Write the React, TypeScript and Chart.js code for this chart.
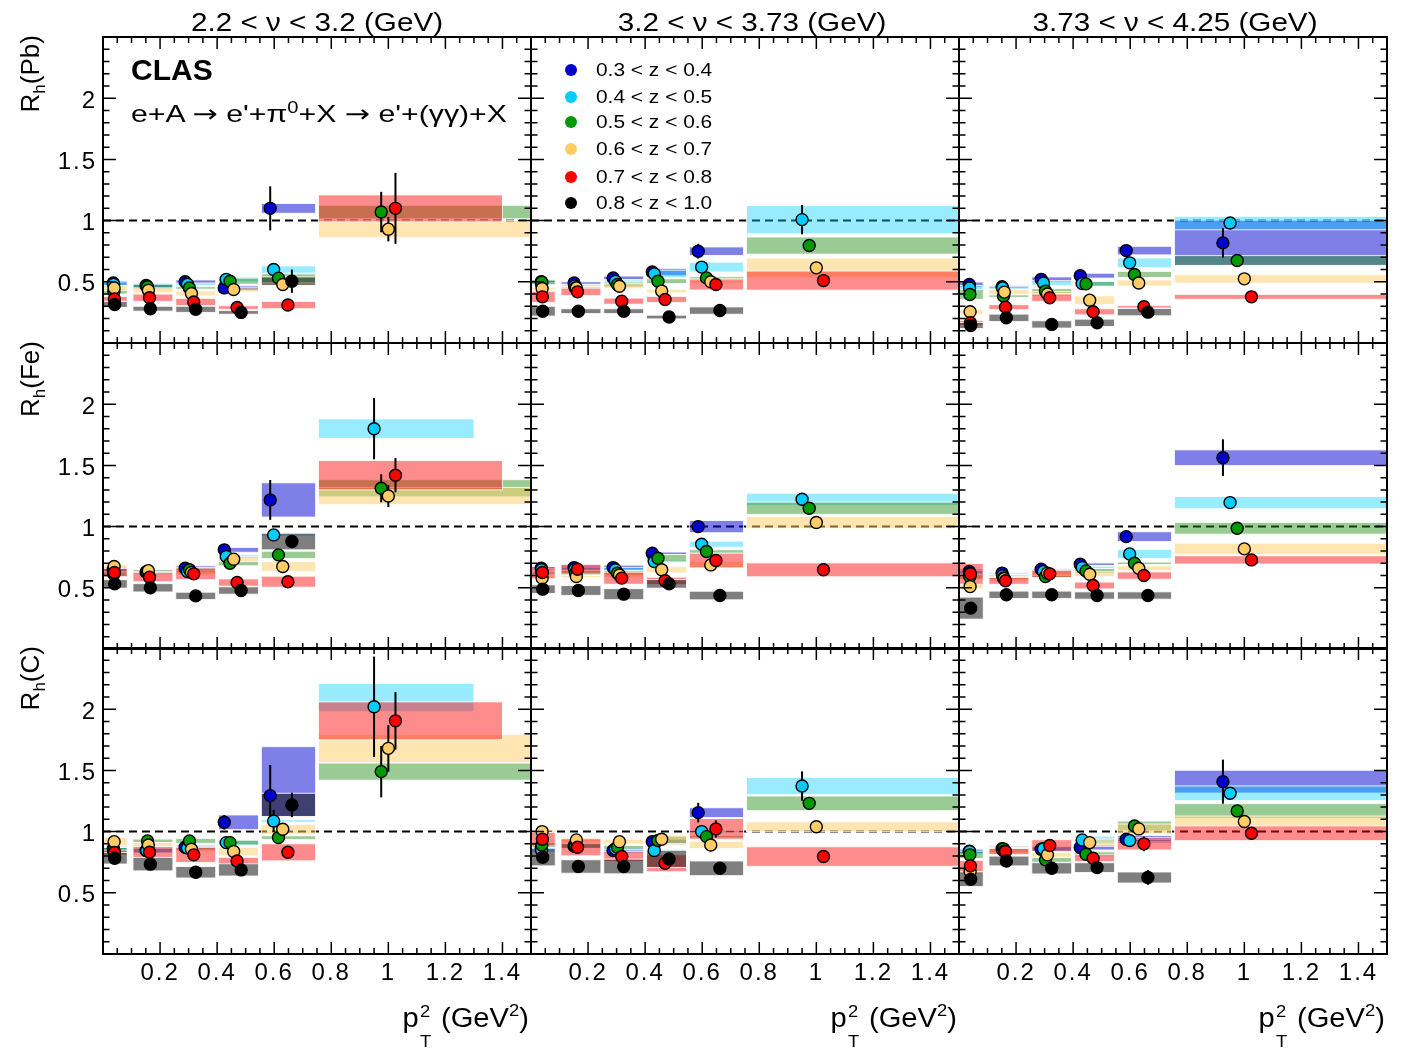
import React, { useEffect, useRef } from 'react';
import { Chart, registerables } from 'chart.js';

Chart.register(...registerables);

// ---------------- data ----------------
const SERIES_LABELS = ['0.3 < z < 0.4', '0.4 < z < 0.5', '0.5 < z < 0.6', '0.6 < z < 0.7', '0.7 < z < 0.8', '0.8 < z < 1.0'];
const POINT_COLORS = ['#0000cc', '#00ccff', '#009900', '#ffcc66', '#ff0000', '#000000'];
const BAND_COLORS = ['rgba(0,0,210,0.5)', 'rgba(0,204,255,0.4)', 'rgba(30,140,20,0.45)', 'rgba(255,204,102,0.5)', 'rgba(255,0,0,0.45)', 'rgba(0,0,0,0.5)'];
const NU_LABELS = ['2.2 < \u03bd < 3.2 (GeV)', '3.2 < \u03bd < 3.73 (GeV)', '3.73 < \u03bd < 4.25 (GeV)'];
const TARGETS = ['Pb', 'Fe', 'C'];
const X_TICK_LABELS = [0.2, 0.4, 0.6, 0.8, 1.0, 1.2, 1.4];
const Y_TICK_LABELS = [0.5, 1.0, 1.5, 2.0];

// pT^2 bin edges (GeV^2)
const BIN_LO = [0, 0.105, 0.255, 0.405, 0.555, 0.755];
const BIN_HI = [0.085, 0.245, 0.395, 0.545, 0.745, 1.5];

// mean pT^2 of each z bin in each pT^2 bin
const X_POS = [
  [0.036, 0.151, 0.288, 0.425, 0.586, 0.925],
  [0.037, 0.153, 0.296, 0.432, 0.598, 0.95],
  [0.038, 0.156, 0.303, 0.445, 0.615, 0.975],
  [0.039, 0.159, 0.31, 0.458, 0.63, 1.0],
  [0.04, 0.163, 0.318, 0.47, 0.648, 1.025],
  [0.041, 0.166, 0.325, 0.484, 0.662, 1.05],
];

// ---- Pb, nu bin 1
const PB_NU1_VAL = [
  [0.49, 0.47, 0.5, 0.45, 1.1, null],
  [0.48, 0.465, 0.48, 0.52, 0.6, null],
  [0.42, 0.46, 0.45, 0.505, 0.53, 1.07],
  [0.45, 0.43, 0.405, 0.437, 0.478, 0.93],
  [0.36, 0.37, 0.335, 0.29, 0.31, 1.1],
  [0.315, 0.28, 0.275, 0.25, 0.505, null],
];
const PB_NU1_STAT = [
  [0.03, 0.03, 0.03, 0.03, 0.18, 0],
  [0.03, 0.03, 0.03, 0.03, 0.04, 0],
  [0.03, 0.03, 0.03, 0.03, 0.03, 0.165],
  [0.03, 0.03, 0.03, 0.03, 0.03, 0.1],
  [0.03, 0.03, 0.03, 0.03, 0.03, 0.29],
  [0.03, 0.03, 0.03, 0.03, 0.095, 0],
];
const PB_NU1_SYS = [
  [0.02, 0.02, 0.015, 0.02, 0.04, 0],
  [0.02, 0.02, 0.01, 0.02, 0.03, 0],
  [0.02, 0.02, 0.01, 0.025, 0.035, 0.055],
  [0.02, 0.02, 0.02, 0.02, 0.01, 0.07],
  [0.02, 0.03, 0.03, 0.015, 0.03, 0.11],
  [0.025, 0.02, 0.025, 0.015, 0.035, 0],
];
const PB_NU1_LASTHI = [1.5, 1.5, 1.5, 1.5, 1.4, 1.5];

// ---- Pb, nu bin 2
const PB_NU2_VAL = [
  [0.5, 0.49, 0.532, 0.58, 0.75, null],
  [0.48, 0.465, 0.505, 0.565, 0.62, 1.008],
  [0.497, 0.45, 0.478, 0.505, 0.532, 0.796],
  [0.445, 0.45, 0.464, 0.424, 0.5, 0.614],
  [0.377, 0.418, 0.342, 0.356, 0.478, 0.51],
  [0.26, 0.26, 0.26, 0.212, 0.265, null],
];
const PB_NU2_STAT = [
  [0.03, 0.03, 0.03, 0.03, 0.06, 0],
  [0.03, 0.03, 0.03, 0.03, 0.03, 0.12],
  [0.03, 0.03, 0.03, 0.03, 0.03, 0.04],
  [0.03, 0.03, 0.03, 0.03, 0.03, 0.04],
  [0.03, 0.03, 0.03, 0.03, 0.03, 0.04],
  [0.03, 0.03, 0.03, 0.03, 0.04, 0],
];
const PB_NU2_SYS = [
  [0.01, 0.01, 0.015, 0.03, 0.035, 0],
  [0.01, 0.01, 0.01, 0.03, 0.04, 0.115],
  [0.02, 0.01, 0.02, 0.02, 0.01, 0.07],
  [0.01, 0.01, 0.02, 0.015, 0.01, 0.08],
  [0.045, 0.03, 0.025, 0.025, 0.045, 0.078],
  [0.04, 0.02, 0.02, 0.015, 0.03, 0],
];
const PB_NU2_LASTHI = [1.5, 1.5, 1.5, 1.5, 1.5, 1.5];

// ---- Pb, nu bin 3
const PB_NU3_VAL = [
  [0.478, 0.459, 0.52, 0.55, 0.755, 0.818],
  [0.45, 0.45, 0.49, 0.486, 0.655, 0.98],
  [0.396, 0.383, 0.424, 0.483, 0.56, 0.674],
  [0.255, 0.416, 0.4, 0.35, 0.49, 0.524],
  [0.165, 0.293, 0.37, 0.255, 0.296, 0.377],
  [0.143, 0.206, 0.152, 0.165, 0.252, null],
];
const PB_NU3_STAT = [
  [0.03, 0.03, 0.03, 0.03, 0.03, 0.12],
  [0.03, 0.03, 0.03, 0.03, 0.03, 0.03],
  [0.03, 0.03, 0.03, 0.03, 0.03, 0.03],
  [0.03, 0.03, 0.03, 0.03, 0.03, 0.03],
  [0.03, 0.03, 0.03, 0.03, 0.04, 0.03],
  [0.03, 0.03, 0.03, 0.03, 0.04, 0],
];
const PB_NU3_SYS = [
  [0.02, 0.01, 0.02, 0.02, 0.035, 0.185],
  [0.02, 0.01, 0.02, 0.02, 0.04, 0.055],
  [0.04, 0.01, 0.02, 0.02, 0.025, 0.04],
  [0.02, 0.02, 0.02, 0.035, 0.025, 0.035],
  [0.02, 0.02, 0.03, 0.025, 0.01, 0.02],
  [0.025, 0.03, 0.03, 0.03, 0.03, 0],
];
const PB_NU3_LASTHI = [1.5, 1.5, 1.5, 1.5, 1.5, 1.5];

// ---- Fe, nu bin 1
const FE_NU1_VAL = [
  [0.65, 0.63, 0.66, 0.81, 1.218, null],
  [0.64, 0.63, 0.633, 0.755, 0.932, 1.8],
  [0.61, 0.625, 0.647, 0.7, 0.769, 1.313],
  [0.674, 0.64, 0.625, 0.734, 0.674, 1.25],
  [0.625, 0.587, 0.614, 0.543, 0.55, 1.42],
  [0.532, 0.5, 0.434, 0.478, 0.878, null],
];
const FE_NU1_STAT = [
  [0.03, 0.03, 0.03, 0.03, 0.163, 0],
  [0.03, 0.03, 0.03, 0.03, 0.03, 0.25],
  [0.03, 0.03, 0.03, 0.03, 0.03, 0.115],
  [0.03, 0.03, 0.03, 0.03, 0.03, 0.09],
  [0.03, 0.03, 0.03, 0.03, 0.03, 0.14],
  [0.03, 0.03, 0.03, 0.03, 0.04, 0],
];
const FE_NU1_SYS = [
  [0.02, 0.02, 0.02, 0.02, 0.14, 0],
  [0.02, 0.02, 0.02, 0.015, 0.01, 0.08],
  [0.02, 0.01, 0.02, 0.02, 0.03, 0.07],
  [0.015, 0.01, 0.02, 0.02, 0.04, 0.07],
  [0.035, 0.037, 0.047, 0.03, 0.045, 0.12],
  [0.035, 0.034, 0.03, 0.03, 0.068, 0],
];
const FE_NU1_LASTHI = [1.5, 1.3, 1.5, 1.5, 1.4, 1.5];

// ---- Fe, nu bin 2
const FE_NU2_VAL = [
  [0.66, 0.665, 0.665, 0.782, 1.0, null],
  [0.647, 0.65, 0.647, 0.715, 0.856, 1.223],
  [0.62, 0.62, 0.62, 0.742, 0.796, 1.15],
  [0.579, 0.592, 0.605, 0.647, 0.687, 1.033],
  [0.625, 0.652, 0.579, 0.557, 0.723, 0.647],
  [0.489, 0.478, 0.448, 0.532, 0.437, null],
];
const FE_NU2_STAT = [
  [0.03, 0.03, 0.03, 0.03, 0.03, 0],
  [0.03, 0.03, 0.03, 0.03, 0.03, 0.05],
  [0.03, 0.03, 0.03, 0.03, 0.03, 0.03],
  [0.03, 0.03, 0.03, 0.03, 0.03, 0.03],
  [0.03, 0.03, 0.03, 0.03, 0.03, 0.03],
  [0.03, 0.03, 0.03, 0.03, 0.03, 0],
];
const FE_NU2_SYS = [
  [0.01, 0.02, 0.02, 0.01, 0.05, 0],
  [0.01, 0.02, 0.02, 0.01, 0.025, 0.05],
  [0.01, 0.02, 0.02, 0.03, 0.015, 0.05],
  [0.01, 0.01, 0.02, 0.025, 0.03, 0.05],
  [0.05, 0.04, 0.05, 0.03, 0.06, 0.057],
  [0.035, 0.04, 0.045, 0.035, 0.035, 0],
];
const FE_NU2_LASTHI = [1.5, 1.5, 1.5, 1.5, 1.5, 1.5];

// ---- Fe, nu bin 3
const FE_NU3_VAL = [
  [0.633, 0.62, 0.652, 0.693, 0.918, 1.563],
  [0.62, 0.598, 0.633, 0.666, 0.777, 1.196],
  [0.59, 0.58, 0.592, 0.638, 0.7, 0.986],
  [0.51, 0.575, 0.62, 0.611, 0.66, 0.818],
  [0.614, 0.557, 0.614, 0.519, 0.6, 0.728],
  [0.334, 0.443, 0.443, 0.437, 0.437, null],
];
const FE_NU3_STAT = [
  [0.03, 0.03, 0.03, 0.03, 0.03, 0.15],
  [0.03, 0.03, 0.03, 0.03, 0.03, 0.03],
  [0.03, 0.03, 0.03, 0.03, 0.03, 0.03],
  [0.03, 0.03, 0.03, 0.03, 0.03, 0.03],
  [0.03, 0.03, 0.03, 0.03, 0.03, 0.03],
  [0.04, 0.03, 0.03, 0.03, 0.03, 0],
];
const FE_NU3_SYS = [
  [0.02, 0.005, 0.005, 0.01, 0.04, 0.064],
  [0.02, 0.01, 0.02, 0.01, 0.037, 0.05],
  [0.02, 0.01, 0.01, 0.02, 0.01, 0.048],
  [0.02, 0.02, 0.02, 0.02, 0.02, 0.046],
  [0.085, 0.028, 0.03, 0.028, 0.03, 0.034],
  [0.09, 0.03, 0.03, 0.03, 0.03, 0],
];
const FE_NU3_LASTHI = [1.5, 1.5, 1.5, 1.5, 1.5, 1.5];

// ---- C, nu bin 1
const C_NU1_VAL = [
  [0.86, 0.845, 0.872, 1.076, 1.294, null],
  [0.85, 0.845, 0.865, 0.91, 1.087, 2.02],
  [0.85, 0.924, 0.924, 0.91, 0.951, 1.49],
  [0.918, 0.891, 0.856, 0.837, 1.019, 1.68],
  [0.829, 0.831, 0.81, 0.76, 0.831, 1.905],
  [0.782, 0.734, 0.668, 0.687, 1.218, null],
];
const C_NU1_STAT = [
  [0.03, 0.03, 0.03, 0.06, 0.25, 0],
  [0.03, 0.03, 0.03, 0.03, 0.09, 0.41],
  [0.03, 0.03, 0.03, 0.03, 0.03, 0.21],
  [0.03, 0.03, 0.03, 0.03, 0.03, 0.19],
  [0.03, 0.03, 0.03, 0.03, 0.04, 0.235],
  [0.03, 0.03, 0.03, 0.03, 0.1, 0],
];
const C_NU1_SYS = [
  [0.02, 0.02, 0.02, 0.06, [0.17, 0.4], 0],
  [0.02, 0.02, 0.02, 0.02, 0.01, [0.04, 0.19]],
  [0.02, 0.015, 0.02, 0.02, 0.015, 0.07],
  [0.035, 0.02, 0.02, 0.035, 0.04, 0.115],
  [0.02, 0.047, 0.062, 0.03, 0.07, 0.155],
  [0.047, 0.055, 0.047, 0.05, 0.095, 0],
];
const C_NU1_LASTHI = [1.5, 1.3, 1.5, 1.5, 1.4, 1.5];

// ---- C, nu bin 2
const C_NU2_VAL = [
  [0.864, 0.883, 0.845, 0.918, 1.155, null],
  [0.85, 0.88, 0.86, 0.845, 1.0, 1.372],
  [0.891, 0.883, 0.872, 0.927, 0.959, 1.231],
  [1.0, 0.932, 0.918, 0.937, 0.891, 1.04],
  [0.937, 0.872, 0.796, 0.742, 1.022, 0.796],
  [0.79, 0.715, 0.715, 0.777, 0.7, null],
];
const C_NU2_STAT = [
  [0.03, 0.03, 0.03, 0.03, 0.08, 0],
  [0.03, 0.03, 0.03, 0.03, 0.03, 0.12],
  [0.03, 0.03, 0.03, 0.03, 0.03, 0.05],
  [0.03, 0.03, 0.03, 0.03, 0.03, 0.04],
  [0.03, 0.03, 0.03, 0.03, 0.07, 0.04],
  [0.03, 0.03, 0.03, 0.03, 0.05, 0],
];
const C_NU2_SYS = [
  [0.02, 0.02, 0.02, 0.02, 0.04, 0],
  [0.02, 0.02, 0.01, 0.01, 0.01, 0.07],
  [0.02, 0.02, 0.015, 0.035, 0.01, 0.06],
  [0.015, 0.02, 0.02, 0.035, 0.03, 0.04],
  [0.055, 0.07, 0.04, 0.07, 0.085, 0.08],
  [0.07, 0.055, 0.06, 0.07, 0.06, 0],
];
const C_NU2_LASTHI = [1.5, 1.5, 1.5, 1.5, 1.5, 1.5];

// ---- C, nu bin 3
const C_NU3_VAL = [
  [0.84, 0.86, 0.856, 0.87, 0.937, 1.408],
  [0.837, 0.85, 0.86, 0.932, 0.927, 1.313],
  [0.81, 0.859, 0.769, 0.815, 1.046, 1.169],
  [0.674, 0.84, 0.81, 0.91, 1.022, 1.082],
  [0.72, 0.837, 0.886, 0.782, 0.9, 0.986],
  [0.611, 0.76, 0.7, 0.706, 0.625, null],
];
const C_NU3_STAT = [
  [0.03, 0.03, 0.03, 0.03, 0.03, 0.18],
  [0.03, 0.03, 0.03, 0.03, 0.03, 0.04],
  [0.03, 0.03, 0.03, 0.03, 0.03, 0.04],
  [0.03, 0.03, 0.03, 0.03, 0.03, 0.04],
  [0.03, 0.03, 0.04, 0.03, 0.06, 0.05],
  [0.05, 0.05, 0.05, 0.05, 0.06, 0],
];
const C_NU3_SYS = [
  [0.02, 0.02, 0.02, 0.02, 0.03, 0.093],
  [0.02, 0.02, 0.02, 0.03, 0.01, 0.06],
  [0.03, 0.01, 0.02, 0.02, 0.04, 0.06],
  [0.02, 0.02, 0.02, 0.03, 0.04, 0.045],
  [0.045, 0.025, 0.048, 0.028, 0.05, 0.06],
  [0.06, 0.04, 0.046, 0.04, 0.045, 0],
];
const C_NU3_LASTHI = [1.5, 1.5, 1.5, 1.5, 1.5, 1.5];

const PANELS = [
  { val: PB_NU1_VAL, stat: PB_NU1_STAT, sys: PB_NU1_SYS, lastHi: PB_NU1_LASTHI },
  { val: PB_NU2_VAL, stat: PB_NU2_STAT, sys: PB_NU2_SYS, lastHi: PB_NU2_LASTHI },
  { val: PB_NU3_VAL, stat: PB_NU3_STAT, sys: PB_NU3_SYS, lastHi: PB_NU3_LASTHI },
  { val: FE_NU1_VAL, stat: FE_NU1_STAT, sys: FE_NU1_SYS, lastHi: FE_NU1_LASTHI },
  { val: FE_NU2_VAL, stat: FE_NU2_STAT, sys: FE_NU2_SYS, lastHi: FE_NU2_LASTHI },
  { val: FE_NU3_VAL, stat: FE_NU3_STAT, sys: FE_NU3_SYS, lastHi: FE_NU3_LASTHI },
  { val: C_NU1_VAL, stat: C_NU1_STAT, sys: C_NU1_SYS, lastHi: C_NU1_LASTHI },
  { val: C_NU2_VAL, stat: C_NU2_STAT, sys: C_NU2_SYS, lastHi: C_NU2_LASTHI },
  { val: C_NU3_VAL, stat: C_NU3_STAT, sys: C_NU3_SYS, lastHi: C_NU3_LASTHI },
];

// ---------------- layout ----------------
const W = 1408;
const H = 1048;
const COL_LEFTS = [103, 531, 959];
const ROW_TOPS = [37, 343, 648];
const PW = 428;
const PH = 306;
const Y_AXIS_W = 60;
const X_AXIS_H = 50;
const FONT = '"Liberation Sans", Arial, Helvetica, sans-serif';

function fmt(v: number) {
  return String(Math.round(Number(v) * 10) / 10);
}

function makeConfig(panel: any, k: number) {
  const r = Math.floor(k / 3);
  const c = k % 3;
  const left = COL_LEFTS[c];
  const top = ROW_TOPS[r];
  const showY = c === 0;
  const showX = r === 2;

  const datasets = panel.val.map((vals: (number | null)[], s: number) => ({
    label: SERIES_LABELS[s],
    data: vals
      .map((v, b) => (v == null ? null : { x: X_POS[s][b], y: v }))
      .filter((p) => p !== null),
    backgroundColor: POINT_COLORS[s],
    borderColor: '#000',
    borderWidth: 1.4,
    pointRadius: 6,
    pointHoverRadius: 6,
    showLine: false,
    order: 5 - s,
  }));

  const plugin = {
    id: 'panelDeco' + k,
    beforeDraw(chart: any) {
      chart.ctx.letterSpacing = '2px';
    },
    beforeDatasetsDraw(chart: any) {
      const ctx = chart.ctx;
      const xs = chart.scales.x;
      const ys = chart.scales.y;
      const a = chart.chartArea;
      ctx.save();
      ctx.letterSpacing = '0px';
      ctx.beginPath();
      ctx.rect(a.left, a.top, a.right - a.left, a.bottom - a.top);
      ctx.clip();
      // reference line at R = 1
      const y1 = ys.getPixelForValue(1);
      ctx.setLineDash([8, 5]);
      ctx.lineWidth = 2;
      ctx.strokeStyle = '#000';
      ctx.beginPath();
      ctx.moveTo(a.left, y1);
      ctx.lineTo(a.right, y1);
      ctx.stroke();
      ctx.setLineDash([]);
      // systematic bands
      panel.val.forEach((vals: (number | null)[], s: number) => {
        vals.forEach((v, b) => {
          if (v == null) return;
          const sy = panel.sys[s][b];
          const dn = Array.isArray(sy) ? sy[0] : sy;
          const up = Array.isArray(sy) ? sy[1] : sy;
          if (!dn && !up) return;
          const xl = xs.getPixelForValue(BIN_LO[b]);
          const xr = xs.getPixelForValue(b === 5 ? panel.lastHi[s] : BIN_HI[b]);
          const yt = ys.getPixelForValue(v + up);
          const yb = ys.getPixelForValue(v - dn);
          ctx.fillStyle = BAND_COLORS[s];
          ctx.fillRect(xl, yt, xr - xl, yb - yt);
          ctx.strokeStyle = 'rgba(255,255,255,0.85)';
          ctx.lineWidth = 1;
          ctx.strokeRect(xl, yt, xr - xl, yb - yt);
        });
      });
      // statistical error bars
      ctx.strokeStyle = '#000';
      ctx.lineWidth = 2;
      panel.val.forEach((vals: (number | null)[], s: number) => {
        vals.forEach((v, b) => {
          if (v == null) return;
          const e = panel.stat[s][b];
          if (!e) return;
          const px = xs.getPixelForValue(X_POS[s][b]);
          ctx.beginPath();
          ctx.moveTo(px, ys.getPixelForValue(v - e));
          ctx.lineTo(px, ys.getPixelForValue(v + e));
          ctx.stroke();
        });
      });
      ctx.restore();
    },
    afterDraw(chart: any) {
      const ctx = chart.ctx;
      const xs = chart.scales.x;
      const ys = chart.scales.y;
      const a = chart.chartArea;
      ctx.save();
      ctx.letterSpacing = '0px';
      ctx.strokeStyle = '#000';
      ctx.lineWidth = 1.5;
      ctx.beginPath();
      for (let i = 1; i < 30; i++) {
        const px = xs.getPixelForValue(i * 0.05);
        const L = i % 4 === 0 ? 12 : 6;
        ctx.moveTo(px, a.bottom);
        ctx.lineTo(px, a.bottom - L);
        ctx.moveTo(px, a.top);
        ctx.lineTo(px, a.top + L);
      }
      for (let i = 1; i < 25; i++) {
        const py = ys.getPixelForValue(i * 0.1);
        const L = i % 5 === 0 ? 13 : 6.5;
        ctx.moveTo(a.left, py);
        ctx.lineTo(a.left + L, py);
        ctx.moveTo(a.right, py);
        ctx.lineTo(a.right - L, py);
      }
      ctx.stroke();
      ctx.lineWidth = 2;
      ctx.strokeRect(a.left, a.top, a.right - a.left, a.bottom - a.top);
      ctx.restore();
    },
  };

  const xScale: any = {
    type: 'linear',
    min: 0,
    max: 1.5,
    display: showX,
    grid: { display: false, drawTicks: false },
    border: { display: false },
    afterBuildTicks: (scale: any) => {
      scale.ticks = X_TICK_LABELS.map((v) => ({ value: v }));
    },
    ticks: {
      autoSkip: false,
      maxRotation: 0,
      minRotation: 0,
      padding: 5,
      color: '#000',
      font: { family: FONT, size: 24 },
      callback: (v: any) => fmt(v),
    },
  };
  if (showX) {
    xScale.afterFit = (scale: any) => {
      scale.height = X_AXIS_H;
    };
  }
  const yScale: any = {
    type: 'linear',
    min: 0,
    max: 2.5,
    display: showY,
    grid: { display: false, drawTicks: false },
    border: { display: false },
    afterBuildTicks: (scale: any) => {
      scale.ticks = Y_TICK_LABELS.map((v) => ({ value: v }));
    },
    ticks: {
      autoSkip: false,
      padding: 6,
      labelOffset: 3,
      color: '#000',
      font: { family: FONT, size: 24 },
      callback: (v: any) => fmt(v),
    },
  };
  if (showY) {
    yScale.afterFit = (scale: any) => {
      scale.width = Y_AXIS_W;
    };
  }

  return {
    type: 'scatter',
    data: { datasets },
    options: {
      responsive: false,
      animation: false,
      devicePixelRatio: 1,
      events: [],
      layout: {
        padding: {
          left: left - (showY ? Y_AXIS_W : 0),
          right: W - (left + PW),
          top: top,
          bottom: H - (top + PH) - (showX ? X_AXIS_H : 0),
        },
      },
      plugins: { legend: { display: false }, tooltip: { enabled: false }, title: { display: false } },
      scales: { x: xScale, y: yScale },
    },
    plugins: [plugin],
  };
}

const LEGEND_Y = [70, 96.7, 121.7, 149, 176.7, 203.3];
const COL_CENTERS = [317, 752, 1175];

export default function App() {
  const refs = useRef<(HTMLCanvasElement | null)[]>([]);

  useEffect(() => {
    const charts = PANELS.map((p, k) => new Chart(refs.current[k] as HTMLCanvasElement, makeConfig(p, k) as any));
    return () => {
      charts.forEach((ch) => ch.destroy());
    };
  }, []);

  const textBase: React.CSSProperties = {
    position: 'absolute',
    fontFamily: FONT,
    color: '#000',
    whiteSpace: 'nowrap',
  };

  return (
    <div style={{ position: 'absolute', left: 0, top: 0, width: W, height: H, background: '#fff', overflow: 'hidden' }}>
      {PANELS.map((_, k) => (
        <canvas
          key={k}
          ref={(el) => {
            refs.current[k] = el;
          }}
          width={W}
          height={H}
          style={{ position: 'absolute', left: 0, top: 0, width: W, height: H }}
        />
      ))}

      {NU_LABELS.map((lab, c) => (
        <div
          key={'nu' + c}
          style={{ ...textBase, left: COL_CENTERS[c] - 200, top: 9, width: 400, textAlign: 'center', fontSize: 26, lineHeight: '26px', transform: 'scaleX(1.14)' }}
        >
          {lab}
        </div>
      ))}

      {TARGETS.map((t, r) => (
        <div
          key={'yt' + r}
          style={{
            ...textBase,
            left: 17,
            top: ROW_TOPS[r] - 2 + 200,
            width: 200,
            textAlign: 'right',
            fontSize: 26,
            lineHeight: '26px',
            transformOrigin: 'left top',
            transform: 'rotate(-90deg)',
          }}
        >
          R<span style={{ fontSize: 17, position: 'relative', top: 6 }}>h</span>({t})
        </div>
      ))}

      {COL_LEFTS.map((l, c) => (
        <div
          key={'xt' + c}
          style={{
            ...textBase,
            left: l + PW - 2 - 300,
            top: 1005,
            width: 300,
            textAlign: 'right',
            fontSize: 27,
            lineHeight: '27px',
            transformOrigin: 'right center',
            transform: 'scaleX(1.08)',
          }}
        >
          p
          <span style={{ position: 'relative', display: 'inline-block', width: 13, height: 0 }}>
            <span style={{ position: 'absolute', left: 1, top: -24, fontSize: 17, lineHeight: '17px' }}>2</span>
            <span style={{ position: 'absolute', left: 1, top: 6, fontSize: 17, lineHeight: '17px' }}>T</span>
          </span>{' '}
          (GeV<span style={{ fontSize: 17, position: 'relative', top: -11 }}>2</span>)
        </div>
      ))}

      <div style={{ ...textBase, left: 131, top: 55, fontSize: 30, lineHeight: '30px', fontWeight: 'bold' }}>CLAS</div>
      <div
        style={{
          ...textBase,
          left: 131,
          top: 102,
          fontSize: 24,
          lineHeight: '24px',
          transformOrigin: 'left center',
          transform: 'scaleX(1.26)',
        }}
      >
        e+A <span style={{ fontFamily: '"DejaVu Sans", sans-serif', fontSize: 24 }}>{'\u2192'}</span> e'+{'\u03c0'}
        <span style={{ fontSize: 16, position: 'relative', top: -9 }}>0</span>+X{' '}
        <span style={{ fontFamily: '"DejaVu Sans", sans-serif', fontSize: 24 }}>{'\u2192'}</span> e'+({'\u03b3\u03b3'})+X
      </div>

      {SERIES_LABELS.map((lab, i) => (
        <React.Fragment key={'lg' + i}>
          <div
            style={{
              position: 'absolute',
              left: 571 - 6,
              top: LEGEND_Y[i] - 6,
              width: 12,
              height: 12,
              borderRadius: '50%',
              background: POINT_COLORS[i],
            }}
          />
          <div
            style={{
              ...textBase,
              left: 596,
              top: LEGEND_Y[i] - 10,
              fontSize: 19,
              lineHeight: '20px',
              transformOrigin: 'left center',
              transform: 'scaleX(1.1)',
            }}
          >
            {lab}
          </div>
        </React.Fragment>
      ))}
    </div>
  );
}
